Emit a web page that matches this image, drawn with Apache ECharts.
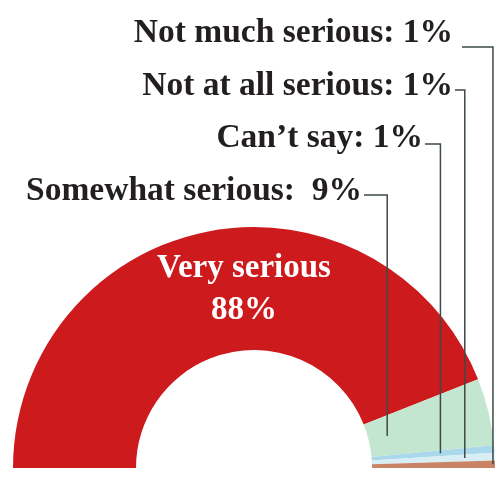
<!DOCTYPE html>
<html><head><meta charset="utf-8">
<script src="https://cdn.jsdelivr.net/npm/echarts@6/dist/echarts.min.js"></script>
<style>html,body{margin:0;padding:0;background:#fff}#c{width:498px;height:479px}</style>
</head><body><div id="c"></div>
<script>
const categories = ['Very serious', 'Somewhat serious', 'Can\u2019t say', 'Not at all serious', 'Not much serious'];
const values = [88, 9, 1, 1, 1];
const labelSep = ['\n', ':  ', ': ', ': ', ': '];

const colors = ['#cc1a1d', '#c3e6d0', '#a9d8ea', '#d9edf5', '#c98466'];
const CX = 254, CY = 468, R_IN = 118, R_OUT = 241;
const labelRightX = [244, 362, 423, 453, 453];
const labelY = [289, 191, 138, 86, 33];
const fontSizes = [33, 33.5, 33.5, 33.5, 33.5];
const leaderR = [0, 137, 187, 211, 239];
const lineDy = [0, 4, 6, 4, 14];
const lineGap = [0, 2, 2, 2, 9];

const total = values.reduce((a, b) => a + b, 0);
function midAngle(i) {
  let before = 0;
  for (let k = 0; k < i; k++) before += values[k];
  return Math.PI - (before + values[i] / 2) / total * Math.PI;
}

const baseSeries = {
  type: 'pie',
  center: [CX, CY],
  radius: [R_IN, R_OUT],
  startAngle: 180,
  endAngle: 0,
  clockwise: true,
  avoidLabelOverlap: false,
  silent: true
};

const chart = echarts.init(document.getElementById('c'), null, {renderer: 'canvas'});
chart.setOption({
  animation: false,
  series: [
    Object.assign({}, baseSeries, {
      z: 1,
      label: {show: false},
      labelLine: {show: false},
      data: categories.map((name, i) => ({name: name, value: values[i], itemStyle: {color: colors[i]}}))
    }),
    Object.assign({}, baseSeries, {
      z: 5,
      itemStyle: {color: 'rgba(0,0,0,0)'},
      data: categories.map((name, i) => ({
        name: name,
        value: values[i],
        label: i === 0 ? {
          position: 'inside', color: '#ffffff', fontSize: fontSizes[i], lineHeight: 42,
          formatter: '{b}\n{c}%'
        } : {
          position: 'outside', color: '#231f20', fontSize: fontSizes[i],
          formatter: '{b}' + labelSep[i] + '{c}%'
        },
        labelLine: {show: i !== 0}
      })),
      label: {fontFamily: 'Liberation Serif', fontWeight: 'bold'},
      labelLine: {show: true, lineStyle: {color: '#3d4a48', width: 1.5}},
      labelLayout: function (p) {
        const i = p.dataIndex;
        if (i === 0) {
          return {x: labelRightX[0], y: labelY[0], align: 'center', verticalAlign: 'middle'};
        }
        const a = midAngle(i);
        const ex = CX + leaderR[i] * Math.cos(a);
        const ey = CY - leaderR[i] * Math.sin(a);
        const ly = labelY[i] + lineDy[i];
        return {
          x: labelRightX[i], y: labelY[i], align: 'right', verticalAlign: 'middle',
          labelLinePoints: [[labelRightX[i] + lineGap[i], ly], [ex, ly], [ex, ey]]
        };
      }
    })
  ]
});
</script></body></html>
